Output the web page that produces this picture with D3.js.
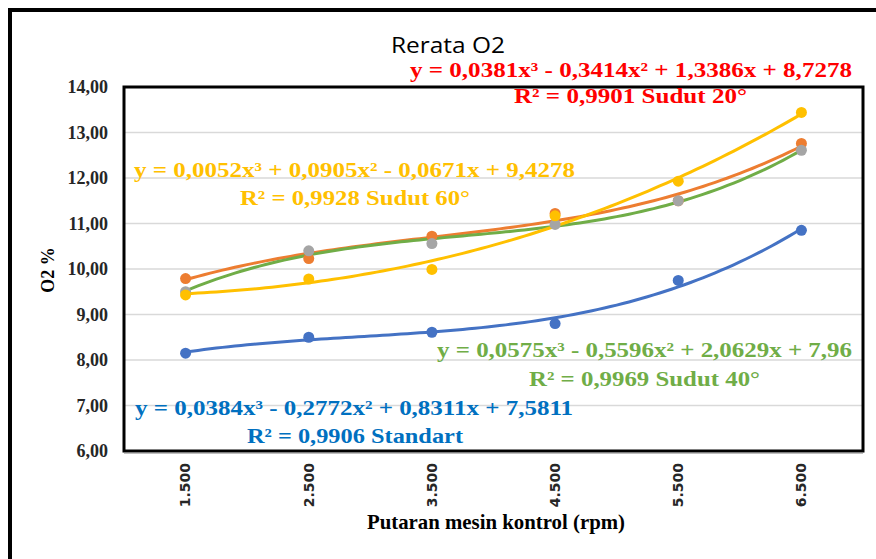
<!DOCTYPE html>
<html>
<head>
<meta charset="utf-8">
<script src="https://cdn.jsdelivr.net/npm/d3@7"></script>
<style>
  body { margin: 0; background: #fff; }
</style>
</head>
<body>
<div id="chart"></div>
<script>
// data
var categories = ["1.500", "2.500", "3.500", "4.500", "5.500", "6.500"];
var standart = [8.15, 8.50, 8.61, 8.80, 9.75, 10.85];
var sudut20  = [9.79, 10.23, 10.72, 11.22, 11.50, 12.76];
var sudut40  = [9.50, 10.40, 10.56, 10.98, 11.50, 12.61];
var sudut60  = [9.43, 9.78, 9.99, 11.17, 11.93, 13.44];
var yTicks = [6, 7, 8, 9, 10, 11, 12, 13, 14];

// trendline coefficients (c0 + c1 x + c2 x^2 + c3 x^3), from the printed equations
var coefStandart = [7.5811, 0.8311, -0.2772, 0.0384];
var coefSudut20  = [8.7278, 1.3386, -0.3414, 0.0381];
var coefSudut40  = [7.96, 2.0629, -0.5596, 0.0575];
var coefSudut60  = [9.4278, -0.0671, 0.0905, 0.0052];

var W = 876, H = 559;
var margin = {top: 87, right: 13, bottom: 108, left: 124};

var svg = d3.select("#chart")
    .append("svg")
    .attr("width", W)
    .attr("height", H);

// outer frame
svg.append("rect")
    .attr("x", 10).attr("y", 10)
    .attr("width", 900).attr("height", 600)
    .attr("fill", "none")
    .attr("stroke", "#000")
    .attr("stroke-width", 4);

var x = d3.scaleBand()
    .domain(categories)
    .range([margin.left, W - margin.right]);

var y = d3.scaleLinear()
    .domain([6, 14])
    .range([H - margin.bottom, margin.top]);

// x position for the trendline (x = 1..6 index)
var xIdx = d3.scaleLinear()
    .domain([1, categories.length])
    .range([x(categories[0]) + x.bandwidth() / 2, x(categories[categories.length - 1]) + x.bandwidth() / 2]);

// gridlines
svg.append("g")
    .selectAll("line")
    .data(yTicks.slice(1, -1))
    .enter()
    .append("line")
    .attr("x1", margin.left).attr("x2", W - margin.right)
    .attr("y1", function(d) { return y(d); })
    .attr("y2", function(d) { return y(d); })
    .attr("stroke", "#d9d9d9")
    .attr("stroke-width", 1.5);

// y axis labels
var yAxis = d3.axisLeft(y)
    .tickValues(yTicks)
    .tickSize(0)
    .tickPadding(16)
    .tickFormat(function(d) { return d3.format(".2f")(d).replace(".", ","); });

svg.append("g")
    .attr("transform", "translate(" + margin.left + ",0)")
    .call(yAxis)
    .call(function(g) { g.select(".domain").remove(); })
    .selectAll("text")
    .attr("font-family", "Liberation Serif")
    .attr("font-weight", "bold")
    .attr("font-size", "18px")
    .attr("fill", "#262626");

// x axis labels
var xAxis = d3.axisBottom(x).tickSize(0);
svg.append("g")
    .attr("transform", "translate(0," + (H - margin.bottom) + ")")
    .call(xAxis)
    .call(function(g) { g.select(".domain").remove(); })
    .selectAll("text")
    .attr("font-family", "DejaVu Sans")
    .attr("font-weight", "bold")
    .attr("font-size", "14px")
    .attr("fill", "#262626")
    .attr("text-anchor", "end")
    .attr("x", 0)
    .attr("y", 0)
    .attr("dy", "0.35em")
    .attr("transform", "translate(0,12) rotate(-90)");

// trendlines
var samples = d3.range(1, 6.001, 0.05);
function poly(c, t) { return c[0] + c[1] * t + c[2] * t * t + c[3] * t * t * t; }
var trendLine = function(c) {
    return d3.line()
        .x(function(t) { return xIdx(t); })
        .y(function(t) { return y(poly(c, t)); })
        .curve(d3.curveLinear)(samples);
};

var trends = [
    {coef: coefStandart, color: "#4472c4"},
    {coef: coefSudut20,  color: "#ed7d31"},
    {coef: coefSudut40,  color: "#70ad47"},
    {coef: coefSudut60,  color: "#ffc000"}
];

svg.append("g")
    .selectAll("path")
    .data(trends)
    .enter()
    .append("path")
    .attr("d", function(d) { return trendLine(d.coef); })
    .attr("fill", "none")
    .attr("stroke", function(d) { return d.color; })
    .attr("stroke-width", 3);

// markers
var series = [
    {values: standart, color: "#4472c4"},
    {values: sudut20,  color: "#ed7d31"},
    {values: sudut40,  color: "#a5a5a5"},
    {values: sudut60,  color: "#ffc000"}
];

series.forEach(function(s) {
    svg.append("g")
        .selectAll("circle")
        .data(s.values)
        .enter()
        .append("circle")
        .attr("cx", function(d, i) { return x(categories[i]) + x.bandwidth() / 2; })
        .attr("cy", function(d) { return y(d); })
        .attr("r", 5.5)
        .attr("fill", s.color);
});

// plot frame
svg.append("rect")
    .attr("x", margin.left).attr("y", margin.top)
    .attr("width", W - margin.right - margin.left)
    .attr("height", H - margin.bottom - margin.top)
    .attr("fill", "none")
    .attr("stroke", "#000")
    .attr("stroke-width", 3);

svg.append("line")
    .attr("x1", margin.left).attr("x2", W - margin.right)
    .attr("y1", H - margin.bottom + 2).attr("y2", H - margin.bottom + 2)
    .attr("stroke", "#7f7f7f")
    .attr("stroke-width", 1);

// title
svg.append("text")
    .attr("x", 391)
    .attr("y", 53)
    .text("Rerata O2")
    .attr("font-family", "Open Sans")
    .attr("font-size", "22px")
    .attr("textLength", 114)
    .attr("lengthAdjust", "spacingAndGlyphs")
    .attr("fill", "#000");

// trend equations
var labels = [
    {t: "y = 0,0381x³ - 0,3414x² + 1,3386x + 8,7278", c: "#ff0000", x: 410, y: 77, w: 442},
    {t: "R² = 0,9901 Sudut 20°", c: "#ff0000", x: 514, y: 103, w: 233},
    {t: "y = 0,0052x³ + 0,0905x² - 0,0671x + 9,4278", c: "#ffc000", x: 134, y: 177, w: 441},
    {t: "R² = 0,9928 Sudut 60°", c: "#ffc000", x: 240, y: 205, w: 230},
    {t: "y = 0,0575x³ - 0,5596x² + 2,0629x + 7,96", c: "#70ad47", x: 437, y: 357, w: 415},
    {t: "R² = 0,9969 Sudut 40°", c: "#70ad47", x: 529, y: 386, w: 231},
    {t: "y = 0,0384x³ - 0,2772x² + 0,8311x + 7,5811", c: "#0070c0", x: 135, y: 415, w: 438},
    {t: "R² = 0,9906 Standart", c: "#0070c0", x: 247, y: 443, w: 216}
];

svg.append("g")
    .selectAll("text")
    .data(labels)
    .enter()
    .append("text")
    .attr("x", function(d) { return d.x; })
    .attr("y", function(d) { return d.y; })
    .text(function(d) { return d.t; })
    .attr("fill", function(d) { return d.c; })
    .attr("font-family", "Liberation Serif")
    .attr("font-weight", "bold")
    .attr("font-size", "22px")
    .attr("textLength", function(d) { return d.w; })
    .attr("lengthAdjust", "spacingAndGlyphs");

// axis titles
svg.append("text")
    .attr("x", 367)
    .attr("y", 529)
    .text("Putaran mesin kontrol (rpm)")
    .attr("font-family", "Liberation Serif")
    .attr("font-weight", "bold")
    .attr("font-size", "22px")
    .attr("textLength", 258)
    .attr("lengthAdjust", "spacingAndGlyphs")
    .attr("fill", "#000");

svg.append("text")
    .attr("transform", "translate(54,270) rotate(-90)")
    .text("O2 %")
    .attr("text-anchor", "middle")
    .attr("font-family", "Liberation Serif")
    .attr("font-weight", "bold")
    .attr("font-size", "18px")
    .attr("fill", "#000");
</script>
</body>
</html>
